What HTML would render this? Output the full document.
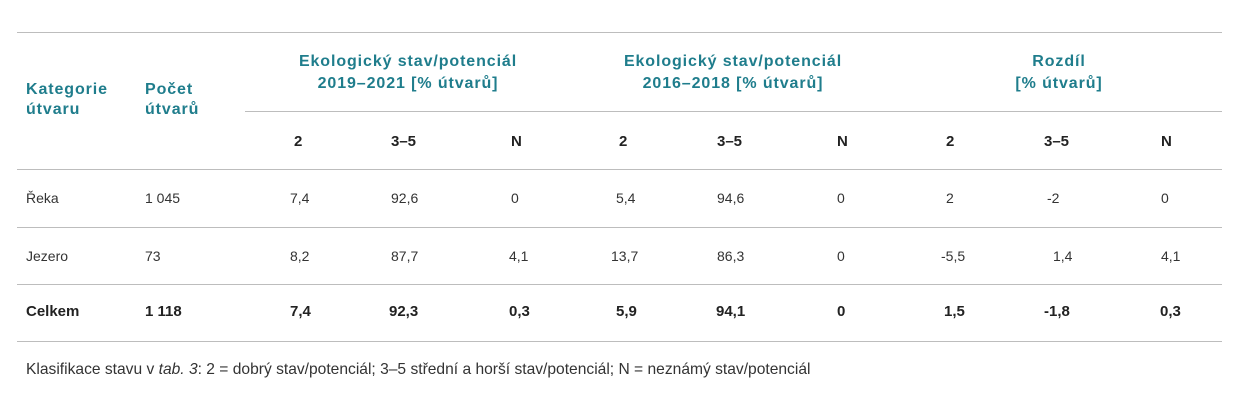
<!DOCTYPE html>
<html><head><meta charset="utf-8"><style>
body{margin:0;width:1246px;height:402px;background:#fff;position:relative;font-family:"Liberation Sans",sans-serif;color:#333;overflow:hidden}
.l{position:absolute;height:1px;background:#bdbdbd}
.t{position:absolute;font-size:14px;line-height:16px;white-space:nowrap;transform:translateY(-8px)}
.h{color:#1f7d8c;font-weight:bold;font-size:16px;letter-spacing:0.9px;line-height:18px;transform:translateY(-9px)}
.c{text-align:center}
.b{font-weight:bold;color:#222;font-size:15px}
</style></head><body>
<div class="l" style="left:17px;top:32px;width:1205px"></div>
<div class="l" style="left:245px;top:111px;width:977px"></div>
<div class="l" style="left:17px;top:169px;width:1205px"></div>
<div class="l" style="left:17px;top:227px;width:1205px"></div>
<div class="l" style="left:17px;top:284px;width:1205px"></div>
<div class="l" style="left:17px;top:341px;width:1205px"></div>

<div class="t h" style="left:26px;top:90px">Kategorie</div>
<div class="t h" style="left:26px;top:110px">útvaru</div>
<div class="t h" style="left:145px;top:90px">Počet</div>
<div class="t h" style="left:145px;top:110px">útvarů</div>
<div class="t h c" style="left:258px;width:300px;top:62px">Ekologický stav/potenciál</div>
<div class="t h c" style="left:258px;width:300px;top:84px">2019–2021 [% útvarů]</div>
<div class="t h c" style="left:583px;width:300px;top:62px">Ekologický stav/potenciál</div>
<div class="t h c" style="left:583px;width:300px;top:84px">2016–2018 [% útvarů]</div>
<div class="t h c" style="left:909px;width:300px;top:62px">Rozdíl</div>
<div class="t h c" style="left:909px;width:300px;top:84px">[% útvarů]</div>

<div class="t b" style="left:294px;top:142px">2</div>
<div class="t b" style="left:391px;top:142px">3–5</div>
<div class="t b" style="left:511px;top:142px">N</div>
<div class="t b" style="left:619px;top:142px">2</div>
<div class="t b" style="left:717px;top:142px">3–5</div>
<div class="t b" style="left:837px;top:142px">N</div>
<div class="t b" style="left:946px;top:142px">2</div>
<div class="t b" style="left:1044px;top:142px">3–5</div>
<div class="t b" style="left:1161px;top:142px">N</div>

<div class="t" style="left:26px;top:198px">Řeka</div>
<div class="t" style="left:145px;top:198px">1 045</div>
<div class="t" style="left:290px;top:198px">7,4</div>
<div class="t" style="left:391px;top:198px">92,6</div>
<div class="t" style="left:511px;top:198px">0</div>
<div class="t" style="left:616px;top:198px">5,4</div>
<div class="t" style="left:717px;top:198px">94,6</div>
<div class="t" style="left:837px;top:198px">0</div>
<div class="t" style="left:946px;top:198px">2</div>
<div class="t" style="left:1047px;top:198px">-2</div>
<div class="t" style="left:1161px;top:198px">0</div>

<div class="t" style="left:26px;top:256px">Jezero</div>
<div class="t" style="left:145px;top:256px">73</div>
<div class="t" style="left:290px;top:256px">8,2</div>
<div class="t" style="left:391px;top:256px">87,7</div>
<div class="t" style="left:509px;top:256px">4,1</div>
<div class="t" style="left:611px;top:256px">13,7</div>
<div class="t" style="left:717px;top:256px">86,3</div>
<div class="t" style="left:837px;top:256px">0</div>
<div class="t" style="left:941px;top:256px">-5,5</div>
<div class="t" style="left:1053px;top:256px">1,4</div>
<div class="t" style="left:1161px;top:256px">4,1</div>

<div class="t b" style="left:26px;top:312px">Celkem</div>
<div class="t b" style="left:145px;top:312px">1 118</div>
<div class="t b" style="left:290px;top:312px">7,4</div>
<div class="t b" style="left:389px;top:312px">92,3</div>
<div class="t b" style="left:509px;top:312px">0,3</div>
<div class="t b" style="left:616px;top:312px">5,9</div>
<div class="t b" style="left:716px;top:312px">94,1</div>
<div class="t b" style="left:837px;top:312px">0</div>
<div class="t b" style="left:944px;top:312px">1,5</div>
<div class="t b" style="left:1044px;top:312px">-1,8</div>
<div class="t b" style="left:1160px;top:312px">0,3</div>

<div class="t" style="left:26px;top:370px;font-size:15.6px;line-height:18px;transform:translateY(-9px)">Klasifikace stavu v <i>tab. 3</i>: 2 = dobrý stav/potenciál; 3–5 střední a horší stav/potenciál; N = neznámý stav/potenciál</div>
</body></html>
